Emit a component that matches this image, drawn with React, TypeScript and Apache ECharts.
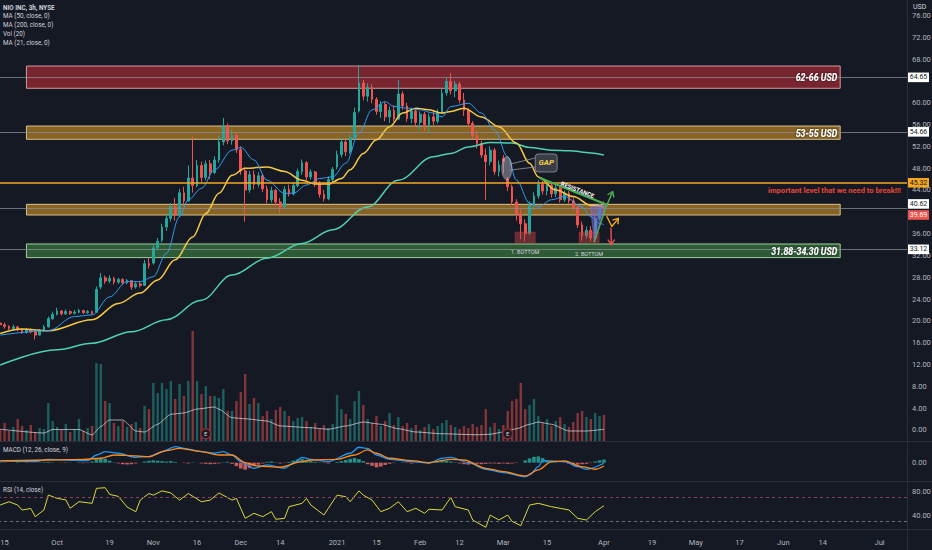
import React, { useEffect, useRef } from "react";
import * as echarts from "echarts";

// ---------------- data ----------------
const tickLabels: [number, string][] = [
  [1, "15"], [13, "Oct"], [25, "19"], [35, "Nov"], [45, "16"], [55, "Dec"], [64, "14"],
  [77, "2021"], [86, "15"], [96, "Feb"], [105, "12"], [115, "Mar"], [125, "15"], [138, "Apr"],
  [149, "19"], [159, "May"], [169, "17"], [179, "Jun"], [188, "14"], [201, "Jul"],
];
const categoryCount = 208;
// 40.00 and 64.00 sit fully under the price tags in the reference, so they are not listed
const priceTicks = [0, 4, 8, 12, 16, 20, 24, 28, 32, 36, 44, 48, 52, 56, 60, 68, 72, 76];
const macdTicks = [0];
const rsiTicks = [40, 80];

// [open, close, low, high]
const candles: number[][] = [
  [19.6, 19.3, 19.0, 20.0], [19.3, 19.0, 18.6, 19.7], [19.0, 18.6, 18.3, 19.2], [18.6, 18.9, 18.2, 19.3],
  [18.9, 18.4, 18.1, 19.1], [18.4, 17.9, 17.6, 18.6], [17.9, 18.4, 17.7, 18.7], [18.4, 18.0, 17.7, 18.6],
  [18.0, 17.4, 16.6, 18.2], [17.4, 18.2, 17.3, 18.5], [18.2, 18.9, 18.0, 19.3], [18.9, 20.4, 18.8, 20.8],
  [20.4, 21.2, 20.2, 21.7], [21.2, 21.8, 21.0, 22.4], [21.8, 21.3, 21.0, 22.0], [21.3, 21.7, 21.1, 22.1],
  [21.7, 21.4, 21.1, 21.9], [21.4, 21.6, 21.2, 22.0], [21.6, 21.9, 21.4, 22.2], [21.9, 21.5, 21.3, 22.0],
  [21.5, 21.7, 21.3, 22.0], [21.7, 21.4, 21.1, 21.9], [21.6, 25.8, 21.5, 26.3], [26.2, 27.9, 25.8, 28.8],
  [27.9, 27.3, 26.8, 28.3], [27.3, 27.8, 26.9, 28.4], [27.8, 27.1, 26.7, 28.1], [27.1, 27.6, 26.8, 27.9],
  [27.6, 27.0, 26.6, 27.8], [27.0, 27.4, 26.7, 27.7], [27.4, 26.2, 25.7, 27.5], [26.2, 26.8, 25.9, 27.1],
  [26.8, 26.5, 26.1, 27.3], [26.5, 30.5, 26.4, 31.2], [30.5, 30.2, 29.6, 31.5], [30.6, 33.4, 30.3, 33.9],
  [33.4, 34.6, 33.0, 35.2], [34.8, 37.2, 34.4, 37.8], [37.2, 38.8, 36.5, 39.4], [38.8, 40.9, 38.2, 41.6],
  [40.9, 39.4, 38.4, 42.5], [39.4, 43.5, 39.0, 44.2], [43.5, 42.0, 41.1, 44.6], [42.0, 46.2, 41.8, 48.5],
  [46.2, 44.8, 43.5, 53.8], [44.8, 48.5, 44.5, 49.5], [48.5, 46.3, 45.5, 49.2], [46.3, 48.8, 45.8, 49.4],
  [48.8, 47.2, 46.0, 49.5], [47.2, 49.5, 46.9, 50.2], [49.5, 52.8, 49.0, 54.0], [52.8, 55.6, 52.2, 57.2],
  [55.6, 53.0, 52.4, 56.2], [53.0, 54.0, 52.3, 55.0], [54.0, 51.4, 50.8, 54.4], [51.4, 47.5, 46.8, 52.0],
  [47.5, 44.0, 38.2, 48.2], [44.0, 46.8, 43.5, 47.5], [46.8, 45.0, 44.1, 47.6], [45.0, 46.6, 44.5, 47.3],
  [46.6, 44.2, 43.6, 47.0], [44.2, 42.2, 41.5, 44.8], [42.2, 43.9, 41.7, 44.6], [43.9, 41.8, 41.0, 44.2],
  [41.8, 40.9, 39.8, 42.5], [40.9, 44.1, 40.6, 44.7], [44.1, 43.3, 42.8, 45.0], [43.3, 44.8, 43.0, 45.4],
  [44.8, 47.4, 44.5, 47.9], [47.4, 49.0, 46.8, 49.6], [49.0, 46.4, 45.8, 49.3], [46.4, 47.3, 45.9, 47.8],
  [47.3, 45.2, 44.6, 47.5], [45.2, 43.2, 42.6, 45.6], [43.2, 42.4, 41.9, 44.0], [42.4, 45.9, 42.1, 46.5],
  [45.9, 47.8, 45.4, 48.2], [48.2, 50.5, 47.8, 51.2], [50.5, 52.8, 50.0, 53.6], [52.8, 51.0, 50.2, 53.5],
  [51.0, 53.6, 50.6, 54.2], [53.6, 58.2, 53.4, 59.1], [58.5, 63.6, 58.2, 66.9], [63.6, 61.2, 60.4, 64.2],
  [61.2, 62.8, 60.2, 63.6], [62.8, 60.6, 59.9, 63.4], [60.6, 58.4, 57.8, 61.0], [58.4, 59.7, 57.2, 60.3],
  [59.7, 57.4, 56.6, 60.1], [57.4, 58.6, 56.3, 59.3], [58.6, 57.0, 56.5, 59.5], [57.0, 61.6, 56.8, 64.2],
  [61.6, 59.4, 58.7, 62.1], [59.4, 57.1, 56.5, 60.0], [57.1, 58.5, 56.2, 59.1], [58.5, 56.4, 55.6, 58.9],
  [56.4, 57.9, 55.0, 58.4], [57.9, 56.0, 54.8, 58.3], [56.0, 57.4, 54.5, 58.0], [57.4, 56.6, 55.9, 58.7],
  [56.6, 58.2, 56.2, 58.8], [58.2, 61.8, 57.9, 62.5], [61.8, 63.9, 61.3, 64.6], [63.9, 62.2, 61.5, 65.4],
  [62.2, 63.4, 61.0, 64.0], [63.4, 60.5, 59.9, 63.8], [60.5, 58.6, 57.6, 61.8], [58.6, 56.2, 55.6, 59.0],
  [56.2, 54.0, 53.3, 56.6], [54.0, 52.5, 51.6, 54.8], [52.5, 50.4, 49.9, 53.0], [50.4, 49.2, 42.2, 51.6],
  [49.2, 51.3, 48.5, 52.0], [51.3, 47.4, 46.8, 51.7], [47.4, 48.6, 46.5, 49.4], [49.8, 49.2, 47.0, 50.4],
  [46.0, 44.6, 43.8, 46.4], [44.6, 41.8, 41.2, 45.0], [41.8, 39.6, 38.4, 42.3], [39.6, 37.8, 35.0, 40.5],
  [37.8, 36.0, 34.6, 38.6], [36.0, 41.2, 35.8, 41.9], [41.2, 42.9, 40.3, 43.6], [42.9, 45.0, 42.4, 45.8],
  [45.0, 43.8, 43.2, 45.7], [43.8, 44.9, 43.0, 45.5], [44.9, 43.3, 42.6, 45.2], [43.3, 44.4, 42.7, 44.9],
  [44.4, 42.2, 41.7, 44.6], [42.2, 43.4, 41.8, 43.9], [43.4, 42.0, 41.5, 43.8], [42.0, 40.8, 40.2, 42.6],
  [40.8, 37.6, 37.0, 41.0], [37.6, 35.6, 34.7, 38.2], [35.6, 36.6, 35.1, 37.3], [36.6, 35.2, 34.6, 37.4],
  [35.2, 38.8, 35.0, 39.3], [38.8, 40.6, 38.4, 41.4], [40.6, 39.69, 39.2, 41.9],
];

const volumes: number[] = [
  48, 72, 40, 56, 88, 60, 44, 64, 36, 52, 48,
  152, 80,
  56, 44, 68, 36, 48, 88, 40, 52, 60,
  312, 308, 160, 152,
  72, 60, 80, 56, 68, 76, 52,
  140, 128, 232, 192, 232, 208, 240, 168, 228, 180, 240, 440, 240, 188, 220, 180, 180, 172, 208, 120,
  120, 160, 196, 268, 148, 172, 152, 100, 120, 88, 124, 136, 120, 100, 80, 92, 96, 80,
  56, 72, 48, 64, 52, 68,
  184, 128, 108, 88, 160, 200, 144,
  88, 72, 100, 60, 80, 112, 64,
  96, 60, 72, 52, 64, 44, 56, 68, 48, 60, 72, 84, 64, 56, 48, 60, 52, 68, 56,
  64, 128, 56, 72, 48, 64, 120, 160, 168, 232, 128, 144, 168,
  100, 72, 88, 60, 80, 96, 68, 56, 76,
  112, 120, 96, 88, 112, 100, 104,
];

const volMa: [number, number][] = [
  [0, 47], [10, 32], [12, 46], [18, 46], [21, 24], [23, 58], [25, 84], [28, 84], [31, 40], [33, 36],
  [36, 67], [39, 107], [42, 112], [45, 128], [49, 136], [50, 127], [53, 93], [56, 89], [61, 80], [64, 60],
  [71, 53], [75, 47], [79, 60], [83, 76], [87, 67], [91, 49], [95, 36], [101, 29], [109, 25], [112, 27],
  [115, 36], [118, 49], [121, 67], [123, 76], [126, 67], [130, 40], [134, 40], [138, 47],
];

const ma21: [number, number][] = [
  [0, 17.4], [11, 18.2], [17, 20.8], [21, 21.1], [25, 24.4], [29, 27.2], [32, 27.2], [35, 28.1], [38, 32.4],
  [41, 39.1], [43, 42.2], [46, 44.3], [49, 47.7], [53, 51.3], [55, 51.8], [58, 49.5], [61, 45.8], [65, 43.4],
  [67, 43.4], [70, 44.9], [73, 46.1], [76, 46.4], [79, 48.9], [82, 54.4], [85, 58.7], [88, 60.2], [90, 59.3],
  [93, 59.0], [96, 58.7], [99, 58.1], [101, 57.4], [103, 59.3], [107, 59.9], [110, 58.1], [113, 55.0],
  [116, 50.1], [118, 45.8], [121, 41.6], [123, 40.9], [126, 42.2], [129, 42.8], [133, 40.9], [135, 39.1],
  [137, 37.9], [138, 37.6],
];
const ma50: [number, number][] = [
  [0, 17.7], [5, 18.5], [11, 18.2], [21, 20.2], [27, 23.2], [32, 25.1], [36, 27.5], [40, 31.2], [44, 35.4],
  [47, 39.7], [50, 43.4], [53, 46.7], [56, 48.0], [61, 48.2], [65, 47.4], [69, 45.8], [72, 45.1], [75, 45.1],
  [78, 46.1], [80, 47.7], [83, 50.7], [86, 53.2], [89, 55.6], [92, 58.1], [95, 59.0], [98, 58.7], [101, 58.1],
  [103, 58.4], [106, 59.0], [110, 57.4], [114, 55.6], [118, 52.6], [121, 48.9], [123, 46.4], [127, 44.0],
  [131, 42.8], [135, 41.2], [138, 40.9],
];
const ma200: [number, number][] = [
  [0, 11.9], [13, 14.7], [21, 15.9], [30, 18.0], [38, 20.2], [46, 23.8], [53, 28.4], [61, 31.5], [69, 34.2],
  [76, 36.7], [84, 40.9], [91, 45.8], [99, 50.1], [103, 50.7], [107, 51.9], [112, 52.7], [117, 52.6],
  [121, 51.8], [126, 51.3], [130, 51.2], [135, 50.8], [138, 50.4],
];

const macdLine: [number, number][] = [
  [0, 0.44], [8, 0.26], [11, 0.87], [15, 0.69], [20, 0.51], [22, 1.97], [24, 2.82], [27, 2.41], [31, 1.38],
  [34, 1.54], [37, 2.82], [40, 4.1], [42, 3.69], [46, 2.82], [49, 2.41], [51, 2.82], [53, 1.97], [55, 0.26],
  [58, -1.44], [61, -0.59], [65, -1.44], [67, -0.15], [69, 1.38], [71, 0.87], [75, 0.26], [80, 2.41],
  [82, 3.95], [84, 3.69], [86, 1.97], [89, 0.87], [94, 0.26], [98, -0.15], [101, 1.13], [103, 1.38],
  [107, 0], [111, -1.69], [115, -2.56], [120, -3.59], [121, -3.15], [123, -1.03], [124, 0.51], [129, 0.26],
  [132, -1.03], [134, -1.69], [138, -0.15],
];
const signalLine: [number, number][] = [
  [0, 0.44], [11, 0.69], [19, 0.87], [23, 1.13], [26, 1.97], [31, 1.72], [34, 1.54], [38, 3.08], [41, 3.69],
  [46, 2.82], [50, 1.97], [53, 1.97], [56, 0], [59, -0.85], [64, -1.18], [69, 0.26], [71, 0.69], [77, 0.87],
  [81, 1.97], [84, 3.26], [86, 2.41], [89, 1.13], [94, 0.51], [98, 0], [103, 0.87], [106, 0.69],
  [111, -1.44], [115, -2.31], [120, -3.41], [123, -1.87], [126, 0.26], [129, 0.44], [133, -1.03],
  [136, -1.69], [138, -0.85],
];
const macdHist: number[] = [
  0.1, 0.05, -0.05, 0, 0.1, 0.05, -0.1, 0, 0.05, 0.1, 0.15, 0.2, 0.1, 0, -0.05, -0.1, -0.05, 0, -0.1, -0.15, -0.1,
  0.3, 0.9, 1.2, 1.0, 0.5, 0.1, -0.2, -0.4, -0.5, -0.4, -0.2, 0, 0.3,
  0.5, 0.6, 0.5, 0.4, 0.3, 0.4, 0.2, 0, -0.1, -0.2, 0.1, 0,
  -0.2, -0.3, -0.4, -0.3, -0.2, 0.1, 0.2, -0.3,
  -0.9, -1.5, -1.8, -1.4, -0.9, -0.5, -0.2,
  0.2, 0.3, 0.1, -0.2, -0.1, 0.2,
  0.5, 0.8, 1.0, 0.7, 0.4, 0.2,
  0.1, -0.1, -0.2, 0, 0.2,
  0.4, 0.7, 1.0, 1.2, 0.9, 0.4,
  -0.4, -0.8, -1.2, -1.0, -0.6, -0.3,
  -0.1, 0, 0.1, -0.1, -0.2, -0.1, 0, -0.1, 0.1, 0.2, 0.3,
  0.4, 0.5, 0.3, 0.1,
  -0.2, -0.4, -0.5, -0.4, -0.3, -0.4, -0.3, -0.2,
  -0.2, -0.3, -0.2, -0.3, -0.2, -0.1, 0,
  0.6, 1.1, 1.5, 1.6, 1.2,
  0.6, 0.3, 0.1, 0, -0.1,
  -0.3, -0.4, -0.5, -0.4, -0.3, -0.1,
  0.3, 0.6, 0.8,
];

const rsi: [number, number][] = [
  [0, 57.8], [2, 63.3], [4, 57.8], [5, 49.5], [7, 52], [8, 38.3], [10, 49.5], [11, 74.5], [13, 69], [15, 66.4],
  [16, 52.3], [18, 63.3], [21, 60.6], [22, 85.6], [24, 86.7], [25, 75.6], [27, 72.2], [29, 54.5], [31, 46.7],
  [32, 66], [34, 77], [35, 74.3], [37, 81.4], [39, 78], [41, 66], [43, 77], [46, 63.3], [48, 66], [50, 78],
  [53, 66], [54, 68.8], [56, 35.6], [58, 44], [60, 38.3], [62, 46.7], [63, 34], [65, 35.6], [66, 55],
  [69, 60.6], [70, 68.8], [71, 57.8], [74, 41.1], [75, 52.3], [77, 74.3], [79, 71.6], [80, 63.3], [82, 81.4],
  [83, 74.3], [85, 66], [87, 46.7], [89, 52.3], [91, 63.3], [93, 46.7], [95, 52.3], [97, 44], [98, 50.8],
  [101, 49.5], [103, 70.5], [104, 55], [107, 49.5], [108, 32.8], [111, 20.6], [112, 41.1], [114, 32.8],
  [116, 41.1], [117, 30.5], [119, 23.3], [121, 57.8], [123, 60.6], [126, 55], [128, 52.3], [130, 49.5],
  [132, 35.6], [134, 32.8], [136, 46.7], [138, 56.6],
];
const rsiBands = [70, 30];

const zones = [
  { label: "62-66 USD", lo: 62.64, hi: 66.73 },
  { label: "53-55 USD", lo: 53.29, hi: 55.73 },
  { label: "", lo: 39.41, hi: 41.37 },
  { label: "31.88-34.30 USD", lo: 31.6, hi: 34.1 },
];
const zoneStart = 6;
const zoneEnd = 192;
const levels = [64.65, 54.66, 40.62, 33.12];
const keyLevel = 45.32;
const lastPrice = 39.69;
const earnings = [47, 116];

// annotation anchors in (category index, price)
const gapCenter: [number, number] = [115.8, 48.0];
const gapBox: [number, number][] = [[122.3, 50.6], [127.3, 47.3]];
const resistanceLine: [number, number][] = [[123.4, 46.2], [138.7, 41.3]];
const resistanceLabel: [number, number] = [132.0, 44.1];
const projection: [number, number][] = [[134.9, 41.0], [138.5, 41.2], [135.8, 34.5]];
const upArrow: [number, number][] = [[135.8, 34.5], [138.5, 40.9], [140.0, 43.7]];
const sideArrow: [number, number][] = [[138.7, 39.1], [139.8, 37.3], [141.3, 38.8]];
const downArrow: [number, number][] = [[139.6, 37.0], [139.7, 34.0]];
const bottoms = [
  { label: "1. BOTTOM", a: [117.7, 36.3], b: [122.3, 34.3], t: [120.0, 32.7] },
  { label: "2. BOTTOM", a: [132.3, 36.3], b: [136.9, 34.3], t: [134.6, 32.3] },
];
const breakNote = { text: "important level that we need to break!!!", at: [175.5, 43.9] };

// ---------------- styles ----------------
const BG = "#151924";
const TXT = "#b2b5be";
const FONT = "Roboto, 'Noto Sans', sans-serif";
const UP = "#26a69a";
const DOWN = "#ef5350";
const zoneStyles = [
  { fill: "rgba(175,45,55,0.65)", border: "rgba(235,175,175,0.85)" },
  { fill: "rgba(212,150,40,0.6)", border: "rgba(240,215,160,0.85)" },
  { fill: "rgba(212,150,40,0.6)", border: "rgba(240,215,160,0.85)" },
  { fill: "rgba(62,135,66,0.6)", border: "rgba(185,230,175,0.85)" },
];

function buildOption() {
  const cats = Array.from({ length: categoryCount }, (_, i) => String(i));
  const labelMap = new Map<number, string>(tickLabels);
  const grids = [
    { left: -2, top: 0, width: 910, height: 441 },
    { left: -2, top: 442, width: 910, height: 39 },
    { left: -2, top: 482, width: 910, height: 47 },
  ].map((g) => ({ ...g, containLabel: false, outerBoundsMode: "none", show: false }));

  const xAxis = [0, 1, 2].map((g) => ({
    type: "category",
    gridIndex: g,
    data: cats,
    boundaryGap: true,
    axisLine: { show: false },
    axisTick: { show: false },
    splitLine: { show: false },
    axisPointer: { show: false },
    axisLabel:
      g === 2
        ? {
            show: true,
            interval: (idx: number) => labelMap.has(idx),
            formatter: (_v: string, idx: number) => labelMap.get(idx) ?? "",
            color: TXT,
            fontSize: 7.5,
            fontFamily: FONT,
            margin: 9,
          }
        : { show: false },
  }));

  const yCommon = {
    type: "value",
    position: "right",
    splitLine: { show: false },
    axisLine: { show: false },
    axisTick: { show: false },
  };
  const lbl = (vals: number[]) => ({
    customValues: vals,
    formatter: (v: number) => v.toFixed(2),
    color: TXT,
    fontSize: 7.5,
    fontFamily: FONT,
    margin: 4,
    align: "left",
  });
  const yAxis = [
    { ...yCommon, gridIndex: 0, min: -2.02, max: 78.83, axisLabel: lbl(priceTicks) },
    { type: "value", gridIndex: 0, min: 0, max: 1764, show: false, splitLine: { show: false } },
    { ...yCommon, gridIndex: 1, min: -4.7, max: 5.3, axisLabel: lbl(macdTicks) },
    { ...yCommon, gridIndex: 2, min: 17.8, max: 96.2, axisLabel: lbl(rsiTicks) },
  ];

  const line = (data: [number, number][], color: string, width: number, xi: number, yi: number, z = 4, smooth = 0.35) => ({
    type: "line",
    xAxisIndex: xi,
    yAxisIndex: yi,
    data: data.map(([i, v]) => [String(i), v]),
    showSymbol: false,
    smooth,
    smoothMonotone: "x",
    silent: true,
    z,
    lineStyle: { color, width },
  });

  return {
    animation: false,
    backgroundColor: BG,
    grid: grids,
    xAxis,
    yAxis,
    tooltip: { show: false },
    series: [
      {
        type: "candlestick",
        xAxisIndex: 0,
        yAxisIndex: 0,
        data: candles,
        barWidth: 2.2,
        z: 3,
        silent: true,
        itemStyle: { color: UP, color0: DOWN, borderColor: UP, borderColor0: DOWN, borderWidth: 1 },
        markLine: {
          silent: true,
          symbol: ["none", "none"],
          label: { show: false },
          data: [
            ...levels.map((v) => ({ yAxis: v, lineStyle: { color: "#8a8d96", width: 1, type: "solid", opacity: 0.75 } })),
            { yAxis: keyLevel, lineStyle: { color: "#f5a623", width: 1.5, type: "solid", opacity: 1 } },
          ],
        },
        markArea: {
          silent: true,
          data: zones.map((zn, k) => [
            {
              xAxis: String(zoneStart),
              yAxis: zn.lo,
              itemStyle: { color: zoneStyles[k].fill, borderColor: zoneStyles[k].border, borderWidth: 1 },
            },
            { xAxis: String(zoneEnd), yAxis: zn.hi },
          ]),
        },
      },
      {
        type: "bar",
        xAxisIndex: 0,
        yAxisIndex: 1,
        barWidth: 2.4,
        z: 1,
        silent: true,
        data: volumes.map((v, i) => ({
          value: v,
          itemStyle: { color: candles[i][1] >= candles[i][0] ? "rgba(38,166,154,0.5)" : "rgba(239,83,80,0.5)" },
        })),
      },
      line(volMa, "rgba(230,232,238,0.85)", 0.8, 0, 1, 2, 0.2),
      line(ma200, "#4fd1b0", 1.5, 0, 0),
      line(ma50, "#f6c945", 1.5, 0, 0),
      line(ma21, "#2f9cf0", 1, 0, 0),
      {
        type: "scatter",
        xAxisIndex: 0,
        yAxisIndex: 0,
        z: 5,
        silent: true,
        symbolSize: 10,
        data: earnings.map((i) => [String(i), -0.7]),
        itemStyle: { color: "#1d1820", borderColor: "#7d2d3b", borderWidth: 1.5, opacity: 1 },
        label: { show: true, formatter: "E", color: "#d1d4dc", fontSize: 6, position: "inside", fontFamily: FONT },
      },
      {
        type: "bar",
        xAxisIndex: 1,
        yAxisIndex: 2,
        barWidth: 3.6,
        silent: true,
        data: macdHist.map((v) => ({
          value: v,
          itemStyle: { color: v >= 0 ? "rgba(38,166,154,0.85)" : "rgba(239,110,110,0.8)" },
        })),
      },
      line(macdLine, "#2196f3", 1.3, 1, 2, 4, 0.3),
      line(signalLine, "#ff8a1e", 1.3, 1, 2, 4, 0.3),
      {
        ...line(rsi, "#d9d93c", 1, 2, 3, 4, 0),
        markLine: {
          silent: true,
          symbol: ["none", "none"],
          label: { show: false },
          data: rsiBands.map((v, k) => ({
            yAxis: v,
            lineStyle: { color: k === 0 ? "#8e3c5c" : "#6b6e78", width: 1, type: [3, 3] },
          })),
        },
      },
    ],
  };
}

function buildGraphic(chart: any) {
  const P = (i: number, p: number): number[] => {
    const i0 = Math.floor(i);
    const a = chart.convertToPixel({ seriesIndex: 0 }, [i0, p]);
    const b = chart.convertToPixel({ seriesIndex: 0 }, [i0 + 1, p]);
    return [a[0] + (i - i0) * (b[0] - a[0]), a[1]];
  };
  const Y = (p: number) => P(0, p)[1];
  const g: any[] = [];
  const text = (x: number, y: number, t: string, o: any = {}) => ({
    type: "text",
    x,
    y,
    z: 60,
    silent: true,
    rotation: o.rotation ?? 0,
    scaleX: o.scaleX ?? 1,
    style: {
      text: t,
      fill: o.fill ?? "#d1d4dc",
      fontSize: o.size ?? 6.5,
      fontWeight: o.weight ?? "normal",
      fontStyle: o.italic ? "italic" : "normal",
      fontFamily: FONT,
      align: o.align ?? "left",
      verticalAlign: "middle",
      textShadowColor: o.shadow ? "rgba(0,0,0,0.8)" : undefined,
      textShadowBlur: o.shadow ? 2 : 0,
    },
  });
  const seg = (pts: number[][], color: string, w: number) => ({
    type: "polyline",
    z: 55,
    silent: true,
    shape: { points: pts },
    style: { stroke: color, lineWidth: w, fill: null, lineJoin: "round", lineCap: "round" },
  });
  const head = (a: number[], b: number[], color: string, size = 4.5) => {
    const dx = b[0] - a[0], dy = b[1] - a[1];
    const L = Math.hypot(dx, dy) || 1;
    const ux = dx / L, uy = dy / L, px = -uy, py = ux;
    return seg(
      [
        [b[0] - ux * size + px * size * 0.7, b[1] - uy * size + py * size * 0.7],
        b,
        [b[0] - ux * size - px * size * 0.7, b[1] - uy * size - py * size * 0.7],
      ],
      color,
      1.4
    );
  };

  // pane separators
  [441.5, 481.5, 529.5].forEach((y) =>
    g.push({ type: "line", z: 40, silent: true, shape: { x1: 0, y1: y, x2: 932, y2: y }, style: { stroke: "#2a2e39", lineWidth: 1 } })
  );
  g.push({ type: "line", z: 40, silent: true, shape: { x1: 907.5, y1: 0, x2: 907.5, y2: 550 }, style: { stroke: "#2a2e39", lineWidth: 1 } });

  // header legend
  const hdr = ["NIO INC, 3h, NYSE", "MA (50, close, 0)", "MA (200, close, 0)", "Vol (20)", "MA (21, close, 0)"];
  hdr.forEach((t, k) => g.push(text(3, 7.5 + k * 8.8, t, { size: 6.3, weight: k === 0 ? "bold" : "normal", fill: "#d1d4dc" })));
  g.push(text(3, 450, "MACD (12, 26, close, 9)", { size: 6.3 }));
  g.push(text(3, 489.5, "RSI (14, close)", { size: 6.3 }));

  // USD
  g.push({ type: "rect", z: 58, silent: true, shape: { x: 908.5, y: 0, width: 24, height: 12 }, style: { fill: BG } });
  g.push(text(913, 6.5, "USD", { size: 7, fill: "#d1d4dc" }));

  // price tags
  const tags = [
    { v: levels[0], bg: "#ffffff", fg: "#131722", dy: 0 },
    { v: levels[1], bg: "#ffffff", fg: "#131722", dy: 0 },
    { v: keyLevel, bg: "#f5a623", fg: "#131722", dy: 0 },
    { v: levels[2], bg: "#ffffff", fg: "#131722", dy: -4.5 },
    { v: lastPrice, bg: "#ef5350", fg: "#ffffff", dy: 1.5 },
    { v: levels[3], bg: "#ffffff", fg: "#131722", dy: 0 },
  ];
  tags.forEach((t) => {
    const y = Y(t.v) + t.dy;
    g.push({ type: "rect", z: 59, silent: true, shape: { x: 908, y: y - 4.8, width: 21, height: 9.6 }, style: { fill: t.bg } });
    g.push(text(918.5, y, t.v.toFixed(2), { size: 7, fill: t.fg, align: "center" }));
  });

  // zone labels
  zones.forEach((zn) => {
    if (!zn.label) return;
    const [x, y] = P(zoneEnd, (zn.lo + zn.hi) / 2);
    g.push(text(x - 3, y, zn.label, { size: 11, weight: "bold", italic: true, fill: "#ffffff", align: "right", scaleX: 0.8, shadow: true }));
  });

  // important level note
  {
    const [x, y] = P(breakNote.at[0], breakNote.at[1]);
    g.push(text(x, y, breakNote.text, { size: 7.6, weight: "bold", fill: "#e8443a" }));
  }

  // GAP callout
  {
    const c = P(gapCenter[0], gapCenter[1]);
    const b1 = P(gapBox[0][0], gapBox[0][1]);
    const b2 = P(gapBox[1][0], gapBox[1][1]);
    g.push(seg([[c[0] + 3, c[1] - 4], [b1[0], b1[1] + 4]], "#9598a1", 0.8));
    g.push(seg([[c[0] + 3, c[1] + 2], [b1[0], b2[1] - 5]], "#9598a1", 0.8));
    g.push({
      type: "ellipse", z: 54, silent: true,
      shape: { cx: c[0], cy: c[1], rx: 5, ry: 11.5 },
      style: { fill: "rgba(170,170,185,0.5)", stroke: "rgba(200,200,210,0.6)", lineWidth: 0.8 },
    });
    g.push({
      type: "rect", z: 56, silent: true,
      shape: { x: b1[0], y: b1[1], width: b2[0] - b1[0], height: b2[1] - b1[1], r: 3 },
      style: { fill: "#3a3d47", stroke: "#9598a1", lineWidth: 0.8 },
    });
    g.push(text((b1[0] + b2[0]) / 2, (b1[1] + b2[1]) / 2, "GAP", { size: 8, weight: "bold", italic: true, fill: "#f2d24b", align: "center" }));
  }

  // resistance
  {
    const a = P(resistanceLine[0][0], resistanceLine[0][1]);
    const b = P(resistanceLine[1][0], resistanceLine[1][1]);
    g.push(seg([a, b], "#4caf50", 2));
    const r = P(resistanceLabel[0], resistanceLabel[1]);
    const ang = -Math.atan2(b[1] - a[1], b[0] - a[0]);
    g.push(text(r[0], r[1], "RESISTANCE", { size: 6, weight: "bold", fill: "#ffffff", align: "center", rotation: ang }));
  }

  // bottoms
  bottoms.forEach((bt) => {
    const a = P(bt.a[0], bt.a[1]);
    const b = P(bt.b[0], bt.b[1]);
    g.push({
      type: "rect", z: 53, silent: true,
      shape: { x: a[0], y: a[1], width: b[0] - a[0], height: b[1] - a[1] },
      style: { fill: "rgba(205,70,70,0.45)", stroke: "rgba(205,70,70,0.6)", lineWidth: 0.5 },
    });
    const t = P(bt.t[0], bt.t[1]);
    g.push(text(t[0], t[1], bt.label, { size: 5.5, fill: "#d1d4dc", align: "center" }));
  });

  // projection triangle and arrows
  g.push({
    type: "polygon", z: 54, silent: true,
    shape: { points: projection.map(([i, p]) => P(i, p)) },
    style: { fill: "rgba(120,100,210,0.55)", stroke: "rgba(150,130,230,0.7)", lineWidth: 0.6 },
  });
  const up = upArrow.map(([i, p]) => P(i, p));
  g.push(seg(up, "#4caf50", 1.4));
  g.push(head(up[1], up[2], "#4caf50"));
  const side = sideArrow.map(([i, p]) => P(i, p));
  g.push(seg(side, "#f5a623", 1.4));
  g.push(head(side[1], side[2], "#f5a623"));
  const down = downArrow.map(([i, p]) => P(i, p));
  g.push(seg(down, "#ef5350", 1.4));
  g.push(head(down[0], down[1], "#ef5350"));

  return g;
}

export default function App() {
  const ref = useRef<HTMLDivElement>(null);
  useEffect(() => {
    document.documentElement.style.margin = "0";
    document.body.style.margin = "0";
    document.body.style.padding = "0";
    document.body.style.background = BG;
    document.body.style.overflow = "hidden";
    const el = ref.current;
    if (!el) return;
    const chart = echarts.init(el, null, { renderer: "svg" });
    chart.setOption(buildOption() as any);
    chart.setOption({ graphic: buildGraphic(chart) } as any);
    return () => chart.dispose();
  }, []);
  return <div ref={ref} style={{ width: 932, height: 550, background: BG }} />;
}
